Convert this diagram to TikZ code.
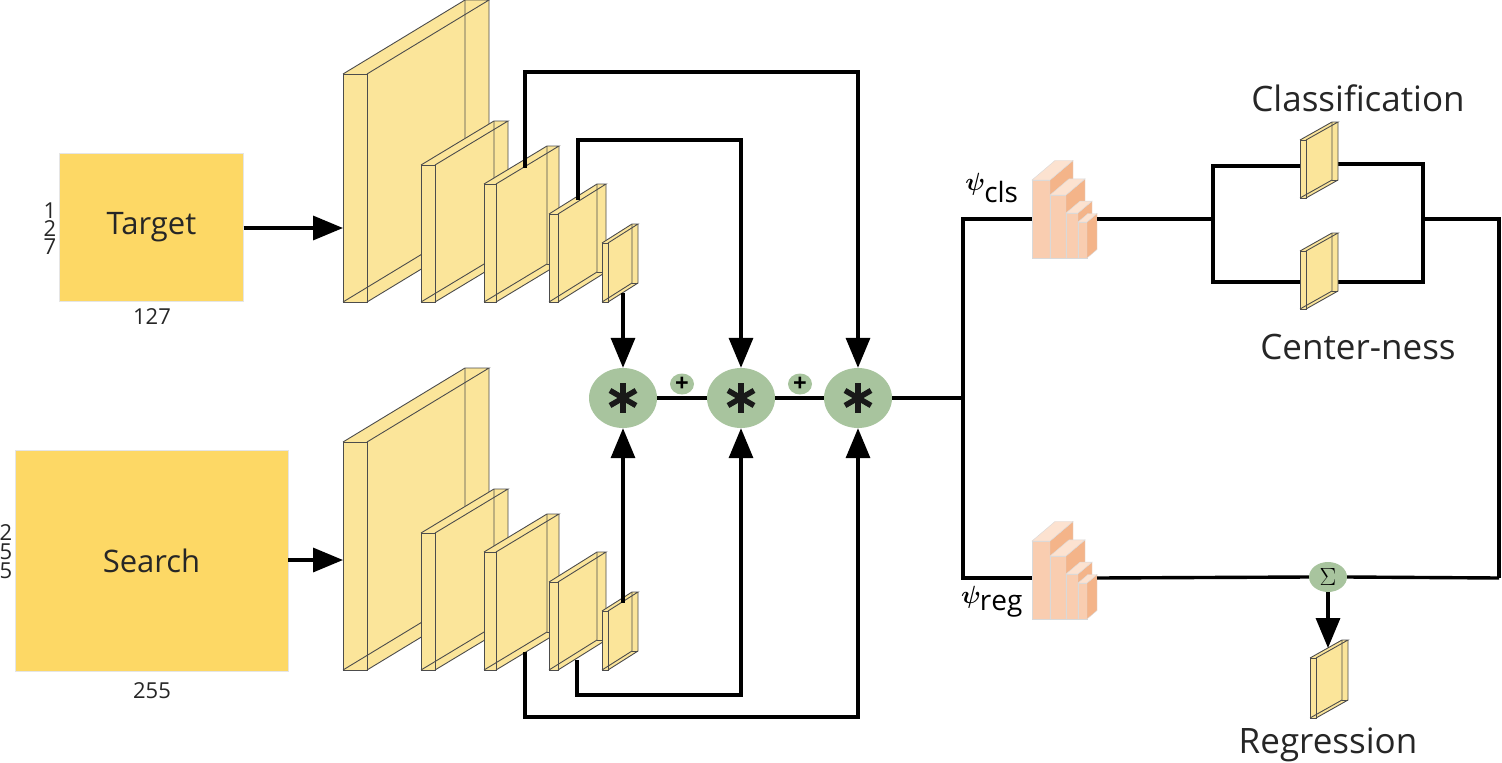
\documentclass[tikz,border=0pt]{standalone}
\usepackage{amsmath,bm}
\usepackage{fontspec}
\setmainfont{Open Sans}
\usetikzlibrary{arrows.meta,calc,shapes.geometric}
\definecolor{slabc}{HTML}{FBE59A}
\definecolor{gold}{HTML}{FDD865}
\definecolor{grn}{HTML}{A8C49E}
\definecolor{orf}{HTML}{F9CDB0}
\definecolor{ors}{HTML}{F4B489}
\definecolor{ort}{HTML}{FCE2D0}
\tikzset{
  conn/.style={line width=3.4pt,black},
  arr/.style={conn,-{Triangle[length=30pt,width=24pt]}},
  edge/.style={draw=black!70,line width=0.9pt},
  lab/.style={font=\fontsize{31}{34}\selectfont,text=black!85},
  num/.style={font=\fontsize{22}{22}\selectfont,text=black!85,inner sep=0pt},
  conv/.style={ellipse,fill=grn,minimum width=68pt,minimum height=60pt,inner sep=0pt},
  plus/.style={ellipse,fill=grn,minimum width=24pt,minimum height=21pt,inner sep=0pt,font=\fontsize{24}{24}\selectfont\bfseries},
}
% slab: x, top, bot, t, dx, dy
\newcommand\myslab[6]{%
  \fill[slabc] (#1,#2) rectangle ({#1+#4},#3);
  \fill[slabc] ({#1+#4},#2)--({#1+#4+#5},{#2-#6})--({#1+#4+#5},{#3-#6})--({#1+#4},#3)--cycle;
  \fill[slabc] (#1,#2)--({#1+#5},{#2-#6})--({#1+#4+#5},{#2-#6})--({#1+#4},#2)--cycle;
  \draw[edge] (#1,#2) rectangle ({#1+#4},#3);
  \draw[edge] (#1,#2)--({#1+#5},{#2-#6})--({#1+#4+#5},{#2-#6})--({#1+#4},#2);
  \draw[edge] ({#1+#4+#5},{#2-#6})--({#1+#4+#5},{#3-#6})--({#1+#4},#3);
  \draw[edge] ({#1+#5},{#2-#6})--({#1+#5},{#3-#6})--(#1,#3);
  \draw[edge] ({#1+#5},{#3-#6})--({#1+#4+#5},{#3-#6});
}
% bar: x, w, top, d, bot
\newcommand\mybar[5]{%
  \fill[orf,draw=black!15] (#1,#3) rectangle ({#1+#2},#5);
  \fill[ors,draw=black!15] ({#1+#2},#3)--({#1+#2+#4},{#3-0.85*#4})--({#1+#2+#4},{#5-0.85*#4})--({#1+#2},#5)--cycle;
  \fill[ort,draw=black!15] (#1,#3)--({#1+#4},{#3-0.85*#4})--({#1+#2+#4},{#3-0.85*#4})--({#1+#2},#3)--cycle;
}
\newcommand\myast[1]{%
  \foreach \a in {90,30,150} \draw[line width=5.5pt,black!90] ($(#1)+(\a:-15)$)--($(#1)+(\a:15)$);
}
\begin{document}
\begin{tikzpicture}[x=1pt,y=-1pt]
\useasboundingbox (0,0) rectangle (1502,763);
% inputs
\node[fill=gold,draw=black!10,minimum width=184pt,minimum height=148pt,inner sep=0pt,lab] (tgt) at (151.5,227) {Target};
\node[fill=gold,draw=black!10,minimum width=273pt,minimum height=221pt,inner sep=0pt,lab] (srch) at (151.5,561) {Search};
\node[num] (n1a) at (50,211) {1};
\node[num] (n1b) at (50,229) {2};
\node[num] (n1c) at (50,247) {7};
\node[num] (n2) at (152,317) {127};
\node[num] (n3a) at (6,533) {2};
\node[num] (n3b) at (6,552) {5};
\node[num] (n3c) at (6,571) {5};
\node[num] (n4) at (152,691) {255};
% backbones
\foreach \o in {0,368}{
  \myslab{343}{74+\o}{302+\o}{24}{122}{74}
  \myslab{421}{165+\o}{302+\o}{14}{73}{44}
  \myslab{484}{184+\o}{302+\o}{12}{63}{38}
  \myslab{549}{214+\o}{302+\o}{9}{48}{30}
  \myslab{602}{243+\o}{302+\o}{6}{30}{19}
}
\coordinate (b1t) at (343,228);
\coordinate (b1s) at (343,560);
\draw[arr] (tgt.east |- b1t) -- (b1t);
\draw[arr] (srch.east |- b1s) -- (b1s);
% correlation nodes
\node[conv] (c1) at (623,398) {};
\node[conv] (c2) at (741,398) {};
\node[conv] (c3) at (858,398) {};
\myast{c1}\myast{c2}\myast{c3}
\node[plus] (p1) at (682,384) {+};
\node[plus] (p2) at (800,384) {+};
\draw[conn] (c1) -- (c2);
\draw[conn] (c2) -- (c3);
% top connections
\coordinate (t5) at (623,293);
\coordinate (t4) at (578,200);
\coordinate (t3) at (525,168);
\draw[arr] (t5) -- (c1.north);
\draw[arr] (t4) |- (741,140) -- (c2.north);
\draw[arr] (t3) |- (858,72) -- (c3.north);
% bottom connections
\coordinate (s5) at (623,603);
\coordinate (s4) at (577,660);
\coordinate (s3) at (525,652);
\draw[arr] (s5) -- (c1.south);
\draw[arr] (s4) |- (741,695) -- (c2.south);
\draw[arr] (s3) |- (858,717) -- (c3.south);
% head
\coordinate (sp) at (963,398);
\coordinate (spt) at (963,219);
\coordinate (spb) at (963,578);
\coordinate (clsin) at (1032,219);
\coordinate (clsout) at (1097,219);
\coordinate (regin) at (1032,578);
\coordinate (regout) at (1097,578);
\draw[conn] (c3.east) -- (sp);
\draw[conn] (clsin) -- (spt) -- (spb) -- (regin);
\foreach \o in {0,361}{
  \mybar{1032}{18}{180+\o}{23}{258+\o}
  \mybar{1050}{16}{195+\o}{19}{258+\o}
  \mybar{1066}{12}{213+\o}{14}{258+\o}
  \mybar{1078}{9}{222+\o}{10}{258+\o}
}
\node[font=\fontsize{40}{40}\selectfont] (pc) at (992,188) {$\bm{\psi}_{\mathrm{cls}}$};
\node[font=\fontsize{40}{40}\selectfont] (pr) at (992,602) {$\bm{\psi}_{\mathrm{reg}}$};
% branch
\coordinate (bl) at (1213,219);
\coordinate (br) at (1423,219);
\coordinate (fr) at (1499,219);
\coordinate (frb) at (1499,578);
\draw[conn] (clsout) -- (bl);
\draw[conn] (1300,166) -| (bl) |- (1300,282);
\draw[conn] (1337,164) -| (br) |- (1337,282);
\draw[conn] (br) -- (fr) -- (frb);
\myslab{1300}{140}{198}{6}{32}{18}
\myslab{1300}{251}{309}{6}{32}{18}
\node[ellipse,fill=grn,minimum width=38pt,minimum height=30pt,inner sep=0pt,font=\fontsize{26}{26}\selectfont] (sig) at (1328,577) {$\Sigma$};
\draw[conn] (regout) -- (sig.west);
\draw[conn] (sig.east) -- (frb);
\myslab{1310}{658}{718}{6}{32}{18}
\coordinate (rtop) at (1328,648);
\draw[arr] (sig.south) -- (rtop);
\node[lab,font=\fontsize{35}{36}\selectfont] (cl) at (1358,98) {Classification};
\node[lab,font=\fontsize{35}{36}\selectfont] (cn) at (1358,347) {Center-ness};
\node[lab,font=\fontsize{35}{36}\selectfont] (rg) at (1328,745) {Regression};
\end{tikzpicture}
\end{document}
